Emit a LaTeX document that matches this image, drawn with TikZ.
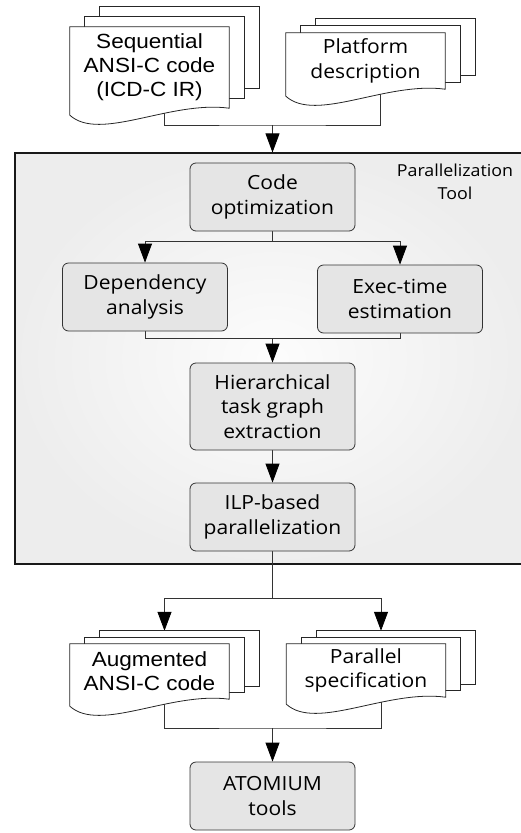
\documentclass[tikz,border=0pt]{standalone}
\usepackage{fontspec}
\setmainfont{Open Sans}[FakeStretch=1.08]
\newfontfamily\docfont{Liberation Sans}[FakeStretch=1.1]
\usetikzlibrary{arrows.meta,positioning}
\pgfdeclarelayer{bg}
\pgfdeclarelayer{mid}
\pgfsetlayers{bg,mid,main}

\begin{document}
\begin{tikzpicture}[x=1pt,y=-1pt,
  box/.style={draw=black!80,fill=black!10,rounded corners=6pt,line width=.8pt,minimum width=165,minimum height=68,align=center,font=\fontsize{19.5}{24.5}\selectfont},
  doc/.style={minimum width=159,inner sep=0pt,align=center,font=\fontsize{19.5}{24.5}\selectfont},
  docA/.style={font=\docfont\fontsize{20.5}{24}\selectfont},
  sheet/.style={draw=black!85,fill=white,line width=.8pt},
  toolbox/.style={draw=black!90,line width=1.1pt,shade,inner color=black!1,outer color=black!7,minimum width=515,minimum height=411},
  ln/.style={draw=black!80,line width=.8pt},
  arr/.style={ln,-{Triangle[length=19pt,width=14pt,black]}}]
\useasboundingbox (0,0) rectangle (520,833);
% input and output documents
\node[doc,docA,minimum height=81] (seq) at (149.5,67.5) {Sequential\\ANSI-C code\\(ICD-C IR)};
\node[doc,minimum height=56] (plat) at (365.5,61) {Platform\\description};
\node[doc,docA,minimum height=55] (aug) at (149.5,671.5) {Augmented\\ANSI-C code};
\node[doc,minimum height=53] (par) at (366,670.5) {Parallel\\specification};
% tool steps
\node[box] (opt) at (272.5,197) {Code\\optimization};
\node[box] (dep) at (145,297) {Dependency\\analysis};
\node[box] (exec) at (400,299) {Exec-time\\estimation};
\node[box,minimum height=87] (htg) at (272.5,406.5) {Hierarchical\\task graph\\extraction};
\node[box] (ilp) at (272.5,517) {ILP-based\\parallelization};
\node[box] (atom) at (272.5,796) {ATOMIUM\\tools};
\node[font=\fontsize{16.5}{23}\selectfont,align=center] (lbl) at (455,182) {Parallelization\\Tool};
% stacked sheets
\begin{pgfonlayer}{mid}
\foreach \n/\d in {seq/10,plat/7,aug/6.5,par/6.5}{
  \draw[sheet] ([shift={(30,-2*\d)}]\n.north west) rectangle ([shift={(30,-2*\d)}]\n.south east);
  \draw[sheet] ([shift={(15,-\d)}]\n.north west) rectangle ([shift={(15,-\d)}]\n.south east);
  \draw[sheet] (\n.south east) -- (\n.north east) -- (\n.north west) -- ([shift={(0,7)}]\n.south west)
    .. controls +(30,27) and +(-59,-8) .. (\n.south east) -- cycle;
}
\end{pgfonlayer}
% frame and connectors
\begin{pgfonlayer}{bg}
\node[toolbox] (tool) at (272.5,358.5) {};
\coordinate (j1) at (272.5,125);
\coordinate (j2) at (272.5,241);
\coordinate (j3) at (272.5,338);
\coordinate (j4) at (272.5,598);
\coordinate (j5) at (272.5,728);
\draw[ln] ([xshift=15]seq.south) |- (j1) -| ([xshift=15]plat.south);
\draw[arr] (j1) -- (j1 |- tool.north);
\draw[ln] (opt) -- (j2);
\draw[arr] (j2) -| (dep);
\draw[arr] (j2) -| (exec);
\draw[ln] (dep) |- (j3);
\draw[ln] (exec) |- (j3);
\draw[arr] (j3) -- (htg);
\draw[arr] (htg) -- (ilp);
\draw[ln] (ilp) -- (j4);
\draw[arr] (j4) -| ([shift={(15,-13)}]aug.north);
\draw[arr] (j4) -| ([shift={(15,-13)}]par.north);
\draw[ln] ([xshift=15]aug.south) |- (j5) -| ([xshift=15]par.south);
\draw[arr] (j5) -- (atom);
\end{pgfonlayer}
\end{tikzpicture}
\end{document}
